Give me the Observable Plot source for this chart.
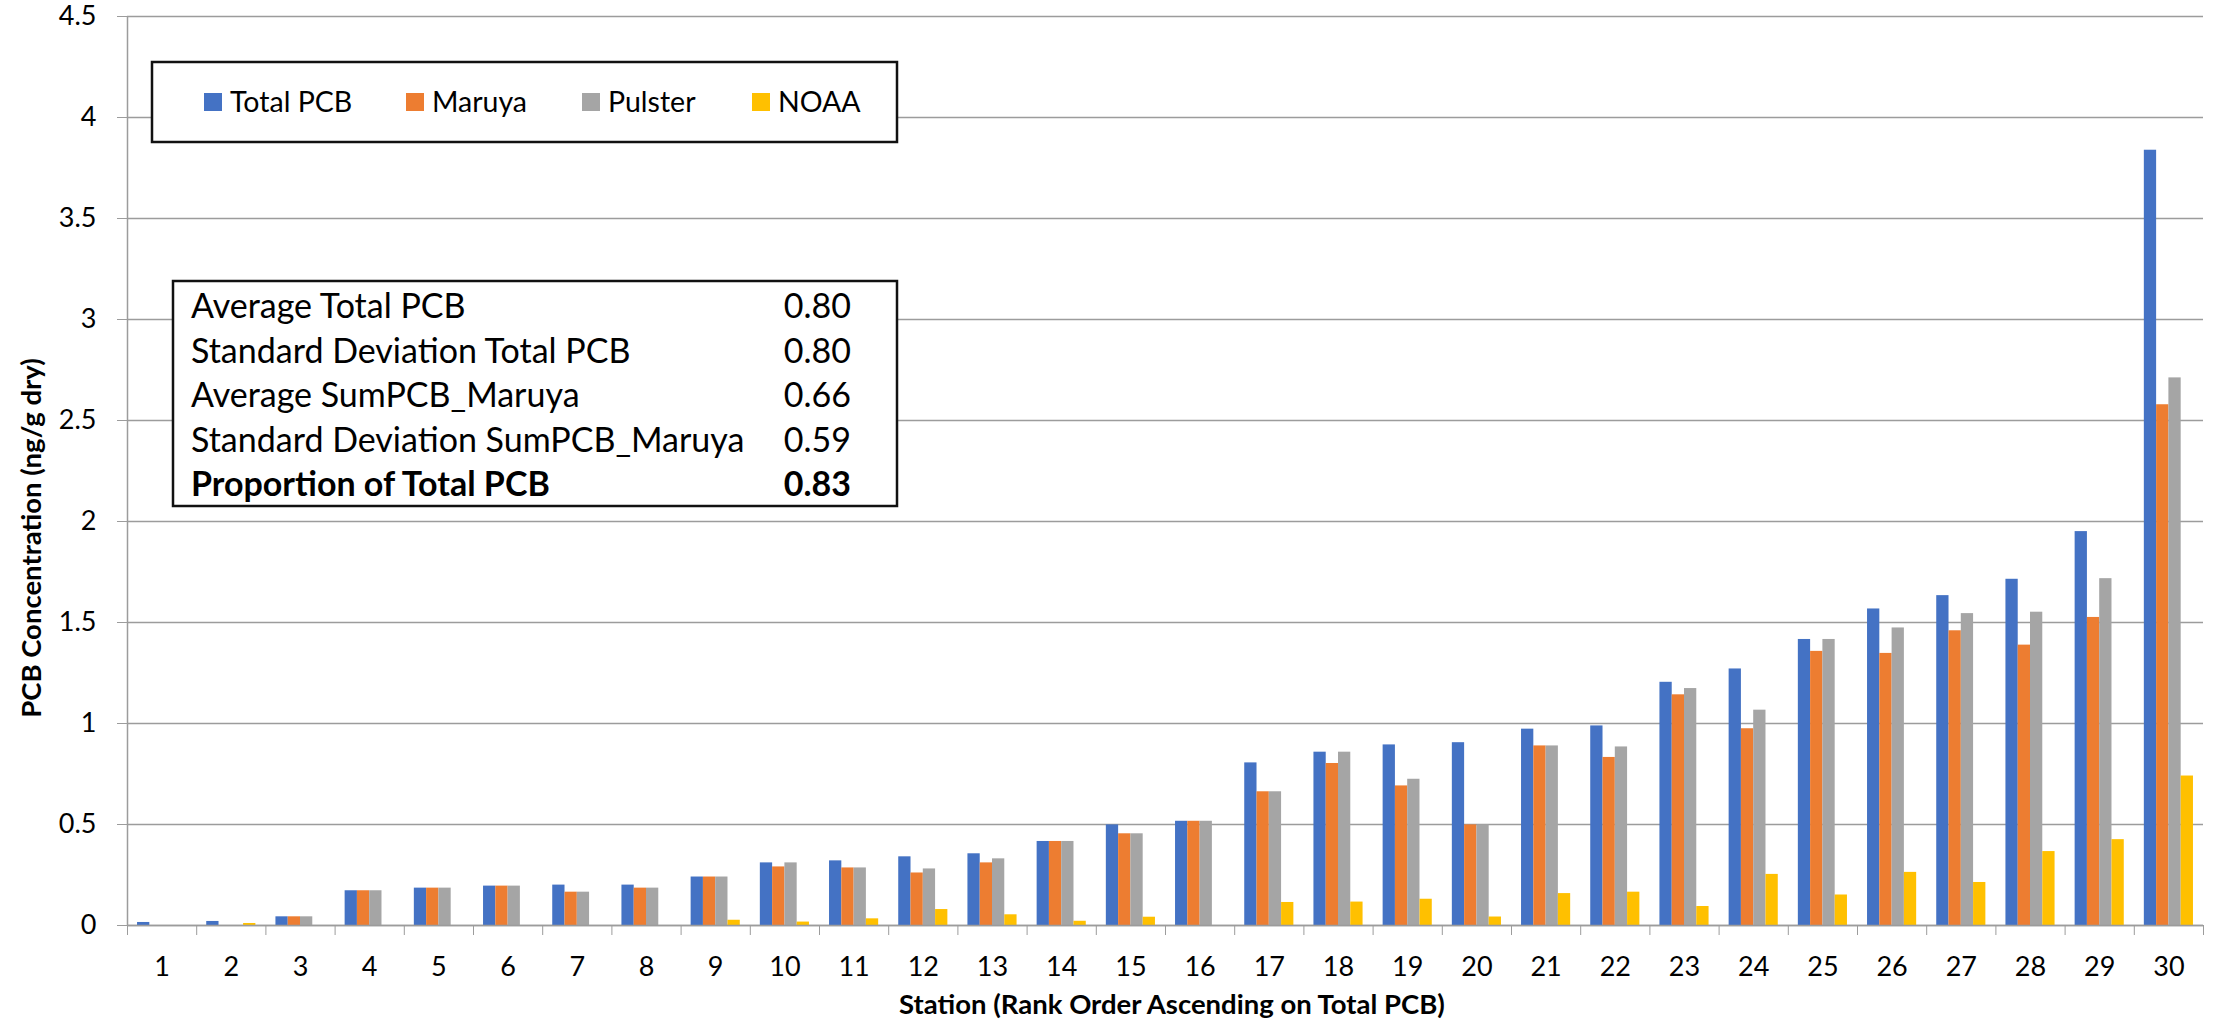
<!DOCTYPE html>
<html><head><meta charset="utf-8">
<script src="https://cdn.jsdelivr.net/npm/d3@7"></script>
<script src="https://cdn.jsdelivr.net/npm/@observablehq/plot@0.6"></script>
<style>html,body{margin:0;padding:0;background:#fff}#chart{position:relative;width:2216px;height:1023px}</style>
</head><body><div id="chart"></div>
<script>
const stations = [1,2,3,4,5,6,7,8,9,10,11,12,13,14,15,16,17,18,19,20,21,22,23,24,25,26,27,28,29,30];
const seriesNames = ["Total PCB","Maruya","Pulster","NOAA"];
const seriesColors = ["#4472C4","#ED7D31","#A5A5A5","#FFC000"];
const totalPCB = [0.015,0.02,0.043,0.172,0.185,0.195,0.2,0.2,0.24,0.31,0.32,0.34,0.355,0.416,0.498,0.516,0.805,0.858,0.894,0.905,0.972,0.988,1.204,1.27,1.416,1.567,1.633,1.714,1.95,3.838];
const maruya = [0,0,0.043,0.172,0.185,0.195,0.165,0.185,0.24,0.29,0.285,0.26,0.31,0.416,0.454,0.516,0.662,0.802,0.691,0.498,0.889,0.832,1.142,0.974,1.357,1.347,1.459,1.388,1.525,2.578];
const pulster = [0,0,0.043,0.172,0.185,0.195,0.165,0.185,0.24,0.31,0.285,0.28,0.33,0.416,0.454,0.516,0.662,0.858,0.724,0.498,0.889,0.884,1.173,1.066,1.416,1.473,1.544,1.551,1.717,2.711];
const noaa = [0,0.01,0,0,0,0,0,0,0.026,0.017,0.033,0.079,0.053,0.021,0.041,0,0.114,0.116,0.13,0.042,0.158,0.165,0.094,0.253,0.151,0.263,0.213,0.366,0.425,0.74];
const yTicks = [0,0.5,1,1.5,2,2.5,3,3.5,4,4.5];
const statLabels = ["Average Total PCB","Standard Deviation Total PCB","Average SumPCB_Maruya","Standard Deviation SumPCB_Maruya","Proportion of Total PCB"];
const statValues = ["0.80","0.80","0.66","0.59","0.83"];
const yTitle = "PCB Concentration (ng/g dry)";
const xTitle = "Station (Rank Order Ascending on Total PCB)";

const seriesArrays = [totalPCB, maruya, pulster, noaa];
const data = [];
stations.forEach((s, j) => seriesArrays.forEach((arr, i) => data.push({station: s, series: seriesNames[i], idx: i, value: arr[j]})));
const boundaries = [0, ...stations].map(s => s + 0.5);

const W = 2216, H = 1023, mL = 127, mR = 13, mT = 16, mB = 98;
const pad = 0.145, bw = (1 - 2 * pad) / 4;
const gridColor = "#9c9c9c";
const FONT = "Lato, 'Open Sans', sans-serif";

const svg = Plot.plot({
  width: W, height: H, marginLeft: mL, marginRight: mR, marginTop: mT, marginBottom: mB,
  style: {fontFamily: FONT, fontSize: "27px", color: "#000", background: "#fff"},
  x: {domain: [0.5, 30.5]},
  y: {domain: [0, 4.5]},
  color: {domain: seriesNames, range: seriesColors},
  marks: [
    Plot.gridY(yTicks, {stroke: gridColor, strokeOpacity: 1, strokeWidth: 1.5}),
    Plot.rectY(data, {
      x1: d => d.station - 0.5 + pad + d.idx * bw,
      x2: d => d.station - 0.5 + pad + (d.idx + 1) * bw,
      y1: 0, y2: "value", fill: "series"
    }),
    Plot.ruleY([0], {stroke: gridColor, strokeWidth: 1.5}),
    Plot.ruleX([0.5], {stroke: gridColor, strokeWidth: 1.5}),
    Plot.axisY(yTicks, {tickSize: 10, tickPadding: 21, stroke: gridColor, strokeOpacity: 1, fill: "#000", tickFormat: d => String(d), label: null, fontSize: 27}),
    Plot.axisX(boundaries, {tickSize: 10, stroke: gridColor, strokeOpacity: 1, tickFormat: () => "", label: null}),
    Plot.axisX(stations, {tickSize: 0, tickPadding: 31, fill: "#000", tickFormat: d => String(d), label: null, fontSize: 27})
  ]
});

const root = d3.select(svg);
// axis titles
root.append("text").attr("transform", `translate(41,538) rotate(-90)`)
  .attr("text-anchor", "middle").attr("font-family", FONT).attr("font-weight", "bold")
  .attr("font-size", 27.5).attr("fill", "#000").text(yTitle);
root.append("text").attr("x", 1172).attr("y", 1014)
  .attr("text-anchor", "middle").attr("font-family", FONT).attr("font-weight", "bold")
  .attr("font-size", 27.5).attr("fill", "#000").text(xTitle);

// legend box
const lg = root.append("g").attr("text-anchor", "start");
lg.append("rect").attr("x", 152).attr("y", 62).attr("width", 745).attr("height", 80)
  .attr("fill", "#fff").attr("stroke", "#111").attr("stroke-width", 2.5);
const legendX = [204, 406, 582, 752];
seriesNames.forEach((n, i) => {
  lg.append("rect").attr("x", legendX[i]).attr("y", 93).attr("width", 18).attr("height", 18).attr("fill", seriesColors[i]);
  lg.append("text").attr("x", legendX[i] + 26).attr("y", 111.5).attr("text-anchor", "start").attr("font-family", FONT)
    .attr("font-size", 28.5).attr("fill", "#000").text(n);
});

// stats box
const sg = root.append("g").attr("text-anchor", "start");
sg.append("rect").attr("x", 173).attr("y", 281).attr("width", 724).attr("height", 225)
  .attr("fill", "#fff").attr("stroke", "#111").attr("stroke-width", 2.5);
statLabels.forEach((l, i) => {
  const bold = i === statLabels.length - 1;
  const yb = 318 + i * 44.6;
  sg.append("text").attr("x", 191).attr("y", yb).attr("text-anchor", "start").attr("font-family", FONT).attr("font-size", 34)
    .attr("font-weight", bold ? "bold" : "normal").attr("fill", "#000").text(l);
  sg.append("text").attr("x", 851).attr("y", yb).attr("text-anchor", "end").attr("font-family", FONT).attr("font-size", 34)
    .attr("font-weight", bold ? "bold" : "normal").attr("fill", "#000").text(statValues[i]);
});

document.getElementById("chart").appendChild(svg);
</script>
</body></html>
